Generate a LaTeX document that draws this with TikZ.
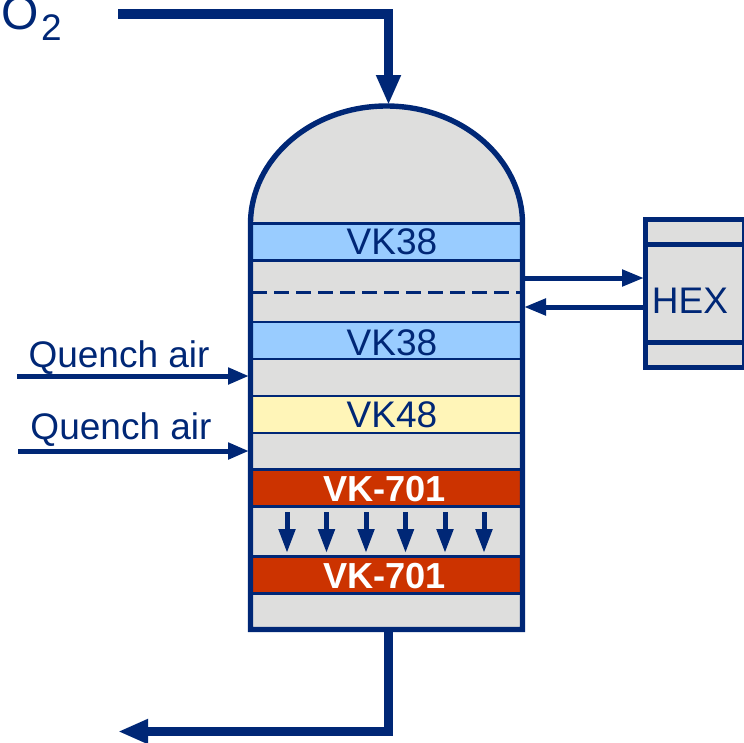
\documentclass[tikz,border=0pt]{standalone}
\usepackage{fontspec}
\setmainfont{Liberation Sans}
\usetikzlibrary{arrows.meta}
\definecolor{navy}{HTML}{002776}
\definecolor{shell}{HTML}{DEDEDD}
\definecolor{vkblue}{HTML}{99CCFF}
\definecolor{vkyellow}{HTML}{FFF5B8}
\definecolor{vkred}{HTML}{CC3300}
\tikzset{
  x=1pt,y=-1pt,
  wall/.style={draw=navy,line width=5.4pt},
  band/.style={draw=navy,line width=2.6pt,minimum width=272pt,inner sep=0pt,outer sep=0pt,anchor=north west},
  redband/.style={fill=vkred,draw=navy,line width=2.8pt,minimum width=272pt,inner sep=0pt,outer sep=0pt,anchor=north west,minimum height=37pt},
  lbl/.style={text=navy,font=\fontsize{37}{40}\selectfont,inner sep=0pt,outer sep=0pt},
  lblbase/.style={lbl,anchor=base west},
  redlbl/.style={text=white,font=\fontsize{36.2}{40}\selectfont\bfseries,inner sep=0pt,outer sep=0pt},
  thickflow/.style={draw=navy,line width=9.6pt,line join=miter,-{Triangle[length=30pt,width=23pt]}},
  midflow/.style={draw=navy,line width=5pt,-{Triangle[length=22pt,width=16pt]}},
  smallflow/.style={draw=navy,line width=5pt,-{Triangle[length=24pt,width=16pt]}},
}
\begin{document}
\begin{tikzpicture}
\useasboundingbox (0,0) rectangle (744,742);
\clip (0,0) rectangle (744,742);
% vessel fill
\fill[shell] (250.5,629.5) -- (250.5,224) arc[start angle=180,end angle=360,x radius=136,y radius=118] -- (522.5,629.5) -- cycle;
% bands
\node[band,fill=vkblue,minimum height=37pt] (b1) at (250.5,223.5) {};
\node[band,fill=vkblue,minimum height=37pt] (b2) at (250.5,322) {};
\node[band,fill=vkyellow,minimum height=37pt] (b3) at (250.5,396) {};
\node[redband] (r1) at (250.5,469.5) {};
\node[redband] (r2) at (250.5,556.5) {};
\coordinate (dl) at (252,292.5);
\coordinate (dr) at (521,292.5);
\draw[navy,line width=2.4pt,dash pattern=on 15pt off 7pt] (dl) -- (dr);
% band labels
\node[lbl] (t1) at (392,241.5) {VK38};
\node[lbl] (t2) at (392,342.5) {VK38};
\node[lbl] (t3) at (392,414.5) {VK48};
\node[redlbl] (t4) at (384.5,489) {VK-701};
\node[redlbl] (t5) at (384.5,576) {VK-701};
% vessel wall
\draw[wall,line join=miter] (250.5,629.5) -- (250.5,224) arc[start angle=180,end angle=360,x radius=136,y radius=118] -- (522.5,629.5) -- cycle;
% HEX
\node[draw=navy,line width=5.4pt,fill=shell,minimum width=99pt,minimum height=148pt,inner sep=0pt,outer sep=0pt,anchor=north west] (hex) at (645.5,219.5) {};
\node[lbl] (hext) at (690,301) {HEX};
\coordinate (hl1) at (645.5,244.5);
\coordinate (hr1) at (744.5,244.5);
\coordinate (hl2) at (645.5,342.5);
\coordinate (hr2) at (744.5,342.5);
\draw[navy,line width=5pt] (hl1) -- (hr1);
\draw[navy,line width=5pt] (hl2) -- (hr2);
% connections
\coordinate (o2s) at (118,14);
\coordinate (o2c) at (388.5,14);
\coordinate (top) at (388.5,105);
\draw[thickflow] (o2s) -- (o2c) -- (top);
\coordinate (bots) at (388.5,630);
\coordinate (botc) at (388.5,731.5);
\coordinate (bote) at (118,731.5);
\draw[thickflow] (bots) -- (botc) -- (bote);
\coordinate (ho1) at (525,278);
\coordinate (hi1) at (644,278);
\coordinate (ho2) at (643,307);
\coordinate (hi2) at (524,307);
\draw[midflow] (ho1) -- (hi1);
\draw[midflow] (ho2) -- (hi2);
\coordinate (q1s) at (17,376);
\coordinate (q1e) at (249,376);
\coordinate (q2s) at (18,451);
\coordinate (q2e) at (249,451);
\draw[midflow,-{Triangle[length=21pt,width=16pt]}] (q1s) -- (q1e);
\draw[midflow,-{Triangle[length=21pt,width=16pt]}] (q2s) -- (q2e);
\node[lblbase] (q1t) at (28.5,367.5) {Quench air};
\node[lblbase] (q2t) at (30.5,439.5) {Quench air};
% O2
\node[text=navy,font=\fontsize{48}{50}\selectfont,inner sep=0pt,anchor=base west] (o2) at (1,29) {O};
\node[text=navy,font=\fontsize{37}{40}\selectfont,inner sep=0pt,anchor=base west] (o2sub) at (41,40.5) {2};
% small arrows
\foreach \n/\x in {a/287,b/326.5,c/366,d/405.5,e/445,f/484}{
  \coordinate (s\n) at (\x,512);
  \coordinate (e\n) at (\x,553);
  \draw[smallflow] (s\n) -- (e\n);
}
\end{tikzpicture}
\end{document}
